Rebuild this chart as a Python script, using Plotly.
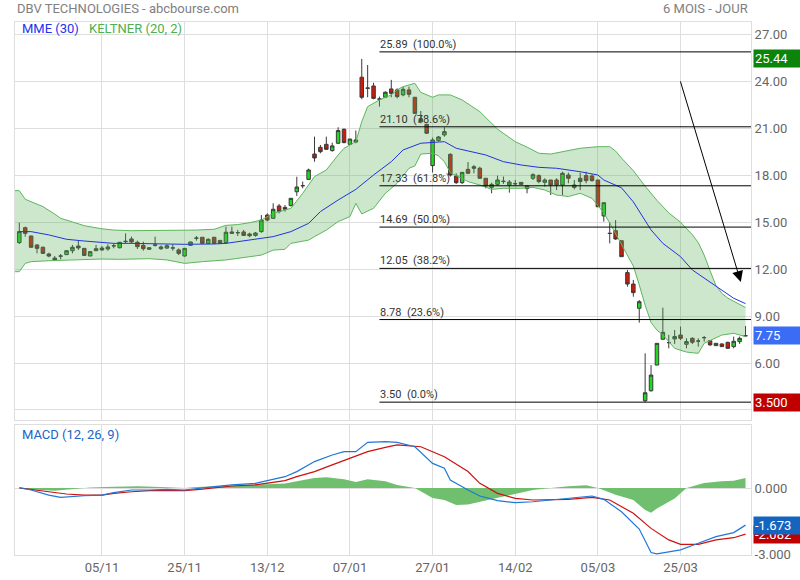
import plotly.graph_objects as go

# ---------------- data ----------------
tick_pos = [14, 28, 42, 56, 70, 84, 98, 112]
tick_labels = ["05/11", "25/11", "13/12", "07/01", "27/01", "14/02", "05/03", "25/03"]

opens = [13.70, 14.65, 14.12, 13.55, 13.40, 12.97, 12.71, 12.85, 12.93, 13.18,
         13.48, 13.33, 12.84, 13.18, 13.35, 13.29, 13.48, 13.37, 13.76, 13.93,
         13.72, 13.52, 13.27, 13.52, 13.31, 13.35, 13.35, 13.23, 12.84, 13.52,
         13.97, 14.04, 13.65, 14.04, 13.84, 13.70, 14.38, 14.34, 14.38, 14.25,
         14.16, 14.40, 15.46, 15.25, 16.04, 15.95, 16.06, 16.95, 17.33, 17.74,
         19.36, 19.79, 19.98, 19.58, 20.05, 20.94, 19.98, 20.13, 24.27, 23.56,
         23.71, 22.86, 22.99, 23.52, 23.46, 23.14, 23.46, 22.99, 21.62, 21.26,
         18.62, 20.22, 20.58, 19.34, 17.96, 17.53, 18.38, 18.55, 18.45, 17.81,
         17.23, 17.42, 17.60, 17.38, 17.45, 17.55, 17.15, 17.81, 17.98, 17.55,
         17.70, 17.70, 17.38, 18.02, 17.23, 17.81, 17.98, 17.96, 17.70, 15.40,
         14.30, 14.46, 13.82, 11.78, 11.05, 9.50, 3.59, 4.23, 5.87, 7.52,
         7.30, 7.54, 7.79, 7.20, 7.58, 7.41, 7.63, 7.43, 7.11, 7.22,
         7.32, 7.05, 7.37, 7.73]
highs = [14.97, 14.72, 14.14, 13.59, 13.45, 13.05, 12.84, 12.97, 13.20, 13.55,
         13.80, 13.33, 13.12, 13.55, 13.48, 13.59, 13.65, 13.72, 14.29, 14.08,
         13.82, 13.76, 13.40, 14.08, 13.52, 13.59, 13.59, 13.33, 13.33, 13.74,
         14.12, 14.04, 13.97, 14.04, 13.84, 14.72, 14.72, 14.51, 14.51, 14.33,
         14.38, 15.46, 15.56, 16.21, 16.17, 16.10, 16.53, 17.91, 17.60, 18.43,
         20.47, 19.94, 20.47, 20.09, 21.07, 21.00, 20.32, 20.86, 25.44, 25.05,
         23.92, 23.03, 23.37, 24.10, 23.56, 23.65, 23.67, 22.99, 22.11, 21.30,
         20.41, 20.51, 21.07, 19.41, 18.13, 18.21, 18.85, 18.66, 18.55, 17.81,
         17.53, 17.98, 17.92, 17.70, 17.70, 17.57, 17.38, 18.13, 18.06, 17.81,
         17.70, 17.81, 18.23, 18.17, 17.70, 18.17, 18.23, 18.06, 17.70, 16.25,
         15.00, 15.14, 13.82, 11.95, 11.31, 10.03, 6.62, 5.87, 7.26, 9.54,
         7.80, 8.11, 8.33, 7.58, 7.64, 7.58, 7.73, 7.45, 7.28, 7.26,
         7.37, 7.69, 7.69, 8.37]
lows = [13.61, 14.08, 13.37, 13.01, 12.99, 12.76, 12.55, 12.63, 12.90, 13.01,
        13.23, 12.88, 12.84, 13.18, 13.18, 13.18, 13.33, 13.33, 13.65, 13.65,
        13.29, 13.18, 13.25, 13.44, 13.23, 13.29, 13.18, 12.90, 12.80, 13.50,
        13.82, 13.65, 13.61, 13.65, 13.65, 13.61, 14.25, 14.12, 14.12, 14.04,
        14.08, 14.33, 15.06, 15.21, 15.57, 15.68, 16.02, 16.68, 17.17, 17.72,
        18.87, 19.41, 19.62, 19.51, 20.00, 20.05, 19.98, 20.05, 22.86, 22.99,
        22.86, 22.39, 22.95, 22.99, 22.92, 23.05, 22.99, 21.96, 21.32, 20.64,
        18.18, 20.17, 20.47, 17.92, 17.45, 17.45, 18.09, 18.13, 17.81, 17.17,
        16.85, 17.32, 17.45, 16.89, 17.32, 17.40, 16.85, 17.70, 17.49, 17.28,
        16.74, 17.06, 16.74, 17.49, 17.10, 17.06, 17.49, 17.60, 15.99, 15.04,
        13.65, 13.87, 12.80, 10.88, 10.24, 8.58, 3.50, 4.17, 5.87, 7.52,
        6.94, 7.22, 7.47, 6.94, 7.22, 7.05, 7.37, 7.10, 7.09, 7.03,
        6.94, 6.94, 7.22, 7.73]
closes = [14.40, 14.29, 13.40, 13.33, 13.01, 12.84, 12.59, 12.83, 13.18, 13.40,
          13.36, 12.88, 13.12, 13.31, 13.23, 13.42, 13.50, 13.72, 13.78, 13.74,
          13.44, 13.31, 13.37, 13.55, 13.42, 13.50, 13.36, 13.01, 13.33, 13.74,
          13.99, 13.65, 13.91, 13.65, 13.65, 14.36, 14.29, 14.33, 14.16, 14.14,
          14.31, 15.14, 15.14, 15.83, 15.68, 15.83, 16.53, 17.25, 17.34, 18.34,
          19.11, 19.51, 19.66, 19.88, 20.86, 20.09, 20.32, 20.26, 22.99, 23.58,
          22.92, 22.88, 23.31, 23.24, 23.03, 23.50, 23.18, 21.96, 21.41, 20.69,
          20.26, 20.45, 20.79, 18.02, 17.53, 18.19, 18.13, 18.45, 17.81, 17.32,
          17.42, 17.70, 17.62, 17.57, 17.47, 17.42, 17.32, 18.04, 17.60, 17.70,
          17.38, 17.38, 18.13, 17.81, 17.38, 17.60, 17.66, 17.66, 15.99, 16.25,
          14.28, 13.93, 12.80, 11.05, 10.50, 9.92, 4.10, 5.23, 7.26, 7.96,
          7.31, 7.69, 7.58, 7.37, 7.33, 7.40, 7.62, 7.16, 7.26, 7.05,
          6.94, 7.39, 7.58, 7.75]
candle_idx = list(range(len(closes)))

ema_x = [0, 2, 5, 8, 11, 14, 16, 19, 22, 25, 28, 31, 33, 35, 37, 41, 43, 46, 49, 51,
         54, 57, 60, 63, 65, 68, 71, 72, 74, 79, 82, 85, 88, 91, 95, 98, 99, 102, 104,
         106, 107, 109, 112, 114, 116, 118, 120, 121, 123]
ema_v = [14.40, 14.40, 14.19, 13.91, 13.80, 13.72, 13.65, 13.65, 13.61, 13.61, 13.59,
         13.59, 13.61, 13.65, 13.76, 13.97, 14.08, 14.40, 14.93, 15.68, 16.42, 17.10,
         18.02, 18.87, 19.62, 20.05, 20.15, 20.15, 19.73, 19.30, 18.87, 18.66, 18.51,
         18.45, 18.23, 18.02, 17.70, 17.20, 16.30, 15.14, 14.51, 13.65, 12.80, 11.95,
         11.42, 10.88, 10.35, 10.14, 9.80]

kup_x = [-1, 0, 1, 2, 4, 6, 7, 9, 11, 14, 16, 19, 22, 25, 28, 30, 33, 35, 37, 39, 41,
         43, 46, 48, 50, 52, 54, 55, 57, 58, 59, 61, 63, 64, 65, 67, 68, 70, 71, 73, 75,
         78, 81, 84, 86, 88, 90, 92, 95, 98, 100, 101, 102, 104, 106, 108, 110, 112,
         113, 114, 115, 116, 117, 118, 119, 120, 121, 122, 123]
kup_v = [17.02, 17.02, 16.47, 16.30, 16.00, 15.52, 15.25, 15.02, 14.78, 14.58, 14.50,
         14.46, 14.46, 14.46, 14.46, 14.50, 14.55, 14.80, 14.85, 14.97, 15.14, 15.57,
         15.89, 16.85, 17.92, 18.34, 19.30, 19.73, 20.15, 21.43, 22.39, 22.82, 23.14,
         23.46, 23.67, 23.88, 23.30, 22.99, 23.14, 23.14, 22.82, 22.07, 20.95, 20.15,
         19.80, 19.41, 19.36, 19.51, 19.73, 19.83, 19.83, 19.55, 19.10, 18.30, 17.30,
         16.40, 15.60, 15.00, 14.60, 14.20, 13.70, 12.90, 11.90, 10.95, 10.45, 10.15,
         9.95, 9.75, 9.55]

klo_x = [-1, 0, 1, 2, 5, 8, 11, 14, 17, 19, 22, 25, 28, 31, 33, 35, 37, 41, 43, 45,
         46, 49, 50, 52, 54, 56, 57, 58, 60, 62, 64, 66, 67, 68, 70, 71, 72, 73, 76, 78,
         80, 82, 85, 87, 89, 91, 93, 95, 97, 99, 100, 102, 104, 105, 106, 107, 108,
         109, 111, 113, 115, 116, 119, 121, 123]
klo_v = [11.84, 11.84, 12.37, 12.48, 12.54, 12.59, 12.63, 12.65, 12.63, 12.63, 12.67,
         12.59, 12.37, 12.48, 12.52, 12.59, 12.69, 12.90, 13.22, 13.27, 13.65, 13.86,
         14.08, 14.50, 15.04, 15.36, 16.21, 15.53, 15.89, 16.85, 17.49, 18.45, 18.60,
         19.36, 19.41, 19.24, 18.87, 18.17, 17.60, 17.38, 17.10, 17.17, 17.17, 17.23,
         17.06, 16.74, 16.64, 16.85, 16.53, 15.60, 14.95, 13.60, 12.20, 11.00, 9.70,
         8.60, 8.10, 7.80, 6.94, 6.70, 6.62, 7.26, 7.79, 7.90, 7.69]

fib_values = [25.89, 21.10, 17.33, 14.69, 12.05, 8.78, 3.50]
fib_labels = ["25.89  (100.0%)", "21.10  (78.6%)", "17.33  (61.8%)", "14.69  (50.0%)",
              "12.05  (38.2%)", "8.78  (23.6%)", "3.50  (0.0%)"]
fib_start = 61

macd_x = [0, 2, 5, 7, 11, 14, 16, 19, 22, 25, 28, 31, 33, 36, 40, 42, 45, 47, 50, 53,
          55, 57, 59, 62, 64, 67, 70, 72, 73, 76, 78, 81, 84, 87, 90, 93, 97, 99, 102,
          105, 107, 108, 112, 115, 118, 121, 123]
macd_v = [0.01, -0.09, -0.32, -0.42, -0.35, -0.32, -0.21, -0.09, -0.09, -0.06, -0.09,
          -0.02, 0.06, 0.14, 0.21, 0.33, 0.51, 0.74, 1.19, 1.49, 1.64, 1.64, 2.06, 2.09,
          2.06, 1.86, 1.11, 0.89, 0.36, -0.09, -0.36, -0.57, -0.66, -0.62, -0.54, -0.47,
          -0.36, -0.51, -1.07, -1.85, -2.91, -2.97, -2.79, -2.49, -2.19, -2.01, -1.673]

sig_x = [0, 2, 5, 8, 11, 14, 16, 19, 22, 25, 28, 31, 33, 36, 40, 42, 45, 47, 50, 53,
         56, 59, 62, 64, 68, 72, 76, 78, 81, 84, 87, 93, 97, 100, 104, 107, 110, 112,
         115, 118, 121, 123]
sig_v = [0.01, -0.05, -0.17, -0.27, -0.32, -0.32, -0.24, -0.17, -0.12, -0.12, -0.12,
         -0.05, 0.01, 0.09, 0.14, 0.21, 0.33, 0.51, 0.74, 1.04, 1.34, 1.64, 1.83, 1.94,
         1.86, 1.41, 0.74, 0.21, -0.24, -0.47, -0.54, -0.51, -0.42, -0.54, -1.14, -1.82,
         -2.34, -2.54, -2.54, -2.34, -2.24, -2.082]

hist_x = [0, 3, 6, 9, 12, 16, 20, 24, 28, 30, 33, 36, 40, 42, 45, 47, 50, 52, 53, 55,
          57, 59, 62, 64, 67, 70, 72, 74, 76, 78, 81, 84, 87, 90, 93, 96, 98, 101, 104,
          106, 107, 108, 111, 113, 116, 119, 121, 123]
hist_v = [0.0, -0.08, -0.12, -0.05, 0.02, 0.06, 0.08, 0.05, 0.0, 0.05, 0.08, 0.09,
          0.15, 0.15, 0.20, 0.30, 0.45, 0.48, 0.45, 0.40, 0.27, 0.40, 0.30, 0.14, 0.0,
          -0.45, -0.54, -0.77, -0.74, -0.62, -0.42, -0.24, -0.09, 0.0, 0.08, 0.12, 0.0,
          -0.30, -0.54, -0.99, -1.11, -0.92, -0.47, 0.0, 0.23, 0.30, 0.33, 0.45]

price_ticks = [3, 6, 9, 12, 15, 18, 21, 24, 27]
price_tick_text = ["", "6.00", "9.00", "12.00", "15.00", "18.00", "21.00", "24.00", "27.00"]
macd_ticks = [-3, 0]
macd_tick_text = ["-3.000", "0.000"]

high_label = 25.44
last_label = 7.75
low_label = 3.50
last_macd = -1.673
last_signal = -2.082

arrow_from = (111.9, 24.10)
arrow_to = (122.2, 11.18)

# ---------------- styles ----------------
FONT = "Roboto, 'Open Sans', Arial, sans-serif"
GRID = "#dedede"
KFILL = "rgba(90,175,90,0.30)"
KLINE = "#5db55d"
EMA_C = "#2233dd"
MACD_C = "#1f78d6"
SIG_C = "#cc1111"
HIST_C = "#6fbf6f"

fig = go.Figure()

# Keltner band fill
fig.add_trace(go.Scatter(
    x=kup_x + klo_x[::-1],
    y=kup_v + klo_v[::-1],
    fill="toself", fillcolor=KFILL, line=dict(width=0), mode="lines",
    hoverinfo="skip", showlegend=False, xaxis="x", yaxis="y"))
fig.add_trace(go.Scatter(x=kup_x, y=kup_v, mode="lines",
                         line=dict(color=KLINE, width=1), showlegend=False,
                         xaxis="x", yaxis="y"))
fig.add_trace(go.Scatter(x=klo_x, y=klo_v, mode="lines",
                         line=dict(color=KLINE, width=1), showlegend=False,
                         xaxis="x", yaxis="y"))
# EMA
fig.add_trace(go.Scatter(x=ema_x, y=ema_v, mode="lines",
                         line=dict(color=EMA_C, width=1), showlegend=False,
                         xaxis="x", yaxis="y"))

# Fibonacci levels
for v in fib_values:
    fig.add_trace(go.Scatter(x=[fib_start, 123.93], y=[v, v], mode="lines",
                             line=dict(color="black", width=1), showlegend=False,
                             hoverinfo="skip", xaxis="x", yaxis="y"))

# Candles
fig.add_trace(go.Candlestick(
    x=candle_idx, open=opens, high=highs, low=lows, close=closes,
    increasing=dict(fillcolor="#1fd81f", line=dict(color="#3a3a3a", width=1)),
    decreasing=dict(fillcolor="#d01a0a", line=dict(color="#3a3a3a", width=1)),
    whiskerwidth=0, showlegend=False, xaxis="x", yaxis="y"))

# MACD panel
fig.add_trace(go.Scatter(x=hist_x, y=hist_v, mode="lines", fill="tozeroy",
                         fillcolor=HIST_C, line=dict(width=0, color=HIST_C),
                         showlegend=False, xaxis="x2", yaxis="y2"))
fig.add_trace(go.Scatter(x=sig_x, y=sig_v, mode="lines",
                         line=dict(color=SIG_C, width=1.2), showlegend=False,
                         xaxis="x2", yaxis="y2"))
fig.add_trace(go.Scatter(x=macd_x, y=macd_v, mode="lines",
                         line=dict(color=MACD_C, width=1.2), showlegend=False,
                         xaxis="x2", yaxis="y2"))

annotations = []
for v, t in zip(fib_values, fib_labels):
    annotations.append(dict(x=fib_start, y=v, xref="x", yref="y", text=t,
                            showarrow=False, xanchor="left", yanchor="bottom",
                            xshift=-1, yshift=-1,
                            font=dict(family=FONT, size=11, color="#333333")))

annotations.append(dict(x=arrow_to[0], y=arrow_to[1], ax=arrow_from[0], ay=arrow_from[1],
                        xref="x", yref="y", axref="x", ayref="y", showarrow=True,
                        arrowhead=2, arrowsize=2.2, arrowwidth=1, arrowcolor="black",
                        text=""))

def tag(y, yref, text, bg):
    return dict(x=1.0025, y=y, xref="paper", yref=yref, text=text, showarrow=False,
                xanchor="left", yanchor="middle", align="left", bgcolor=bg,
                width=48, borderpad=1,
                font=dict(family=FONT, size=13, color="white"))

annotations.append(tag(high_label, "y", f"{high_label:.2f}", "#0a840a"))
annotations.append(tag(last_label, "y", f"{last_label:.2f}", "#3b6cf5"))
annotations.append(tag(low_label, "y", f"{low_label:.3f}", "#c00000"))
annotations.append(tag(last_signal, "y2", f"{last_signal:.3f}", "#c00000"))
annotations.append(tag(last_macd, "y2", f"{last_macd:.3f}", "#1565c0"))

annotations.append(dict(x=0, y=1.0244, xref="paper", yref="paper",
                        text="DBV TECHNOLOGIES - abcbourse.com", showarrow=False,
                        xanchor="left", yanchor="middle",
                        font=dict(family=FONT, size=13, color="#808080")))
annotations.append(dict(x=0.9986, y=1.0244, xref="paper", yref="paper",
                        text="6 MOIS - JOUR", showarrow=False,
                        xanchor="right", yanchor="middle",
                        font=dict(family=FONT, size=13, color="#808080")))
annotations.append(dict(x=0.0068, y=0.9887, xref="paper", yref="paper",
                        text="MME (30)", showarrow=False,
                        xanchor="left", yanchor="middle",
                        font=dict(family=FONT, size=13, color="#2233ee")))
annotations.append(dict(x=0.0975, y=0.9887, xref="paper", yref="paper",
                        text="KELTNER (20, 2)", showarrow=False,
                        xanchor="left", yanchor="middle",
                        font=dict(family=FONT, size=13, color="#4caf50")))
annotations.append(dict(x=0.0068, y=0.227, xref="paper", yref="paper",
                        text="MACD (12, 26, 9)", showarrow=False,
                        xanchor="left", yanchor="middle",
                        font=dict(family=FONT, size=13, color="#1a66c8")))

axis_common = dict(showgrid=True, gridcolor=GRID, gridwidth=1, zeroline=False,
                   showline=True, mirror=True, linecolor=GRID, linewidth=1,
                   ticks="", automargin=False)

fig.update_layout(
    width=800, height=580,
    margin=dict(l=15, r=49, t=22, b=25, autoexpand=False),
    paper_bgcolor="white", plot_bgcolor="white",
    font=dict(family=FONT, size=13, color="#666666"),
    showlegend=False,
    hovermode=False,
    boxgap=0.15,
    xaxis=dict(domain=[0, 1], range=[-0.73, 123.93], anchor="y",
               tickvals=tick_pos, ticktext=tick_labels, showticklabels=False,
               rangeslider=dict(visible=False), **axis_common),
    xaxis2=dict(domain=[0, 1], range=[-0.73, 123.93], anchor="y2", matches="x",
                tickvals=tick_pos, ticktext=tick_labels,
                tickfont=dict(family=FONT, size=13, color="#666666"),
                **axis_common),
    yaxis=dict(domain=[0.2542, 1.0], range=[2.39, 27.80], side="right", anchor="x",
               tickvals=price_ticks, ticktext=price_tick_text,
               tickfont=dict(family=FONT, size=13, color="#666666"),
               **axis_common),
    yaxis2=dict(domain=[0.0, 0.2439], range=[-3.02, 2.84], side="right", anchor="x2",
                tickvals=macd_ticks, ticktext=macd_tick_text,
                tickfont=dict(family=FONT, size=13, color="#666666"),
                **axis_common),
    annotations=annotations,
)

fig.write_html("out.html",
               config={"displayModeBar": False, "staticPlot": True},
               post_script="document.body.style.margin='0';document.body.style.overflow='hidden';")
